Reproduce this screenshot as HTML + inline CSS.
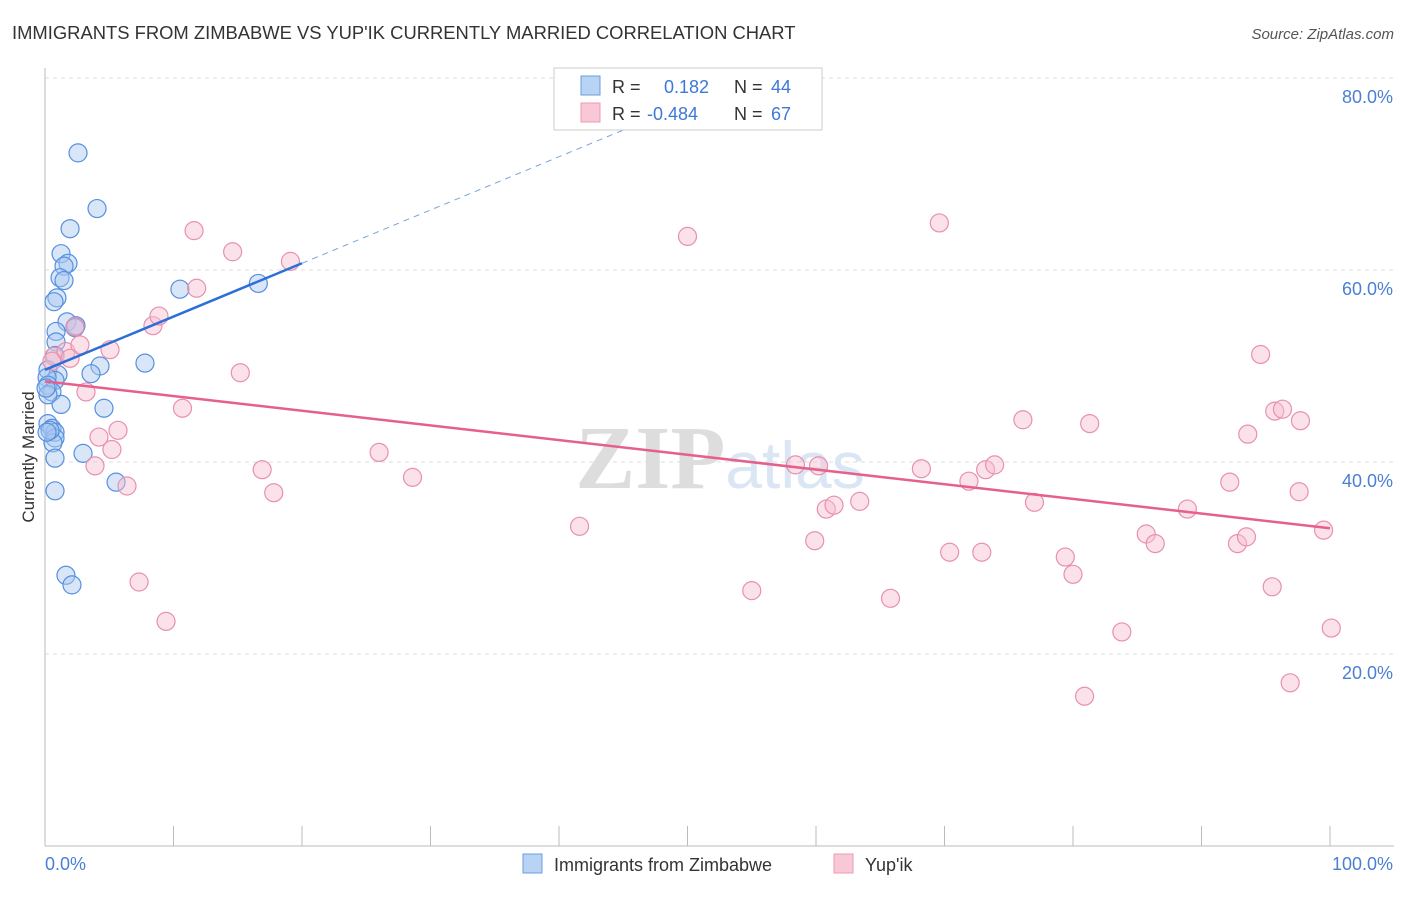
<!DOCTYPE html>
<html><head><meta charset="utf-8"><style>
body{margin:0;background:#fff;font-family:"Liberation Sans",sans-serif}
</style></head><body>
<svg width="1406" height="892" xmlns="http://www.w3.org/2000/svg" font-family="Liberation Sans, sans-serif">
<text x="12" y="39" font-size="18.4" fill="#333">IMMIGRANTS FROM ZIMBABWE VS YUP'IK CURRENTLY MARRIED CORRELATION CHART</text>
<text x="1394" y="39" font-size="15" fill="#555" text-anchor="end" font-style="italic">Source: ZipAtlas.com</text>
<g id="grid"></g>
<text x="720" y="488" font-size="90" text-anchor="middle" fill="#ddd" font-family="Liberation Serif, serif" font-weight="bold">ZIP<tspan fill="#dbe6f4" font-family="Liberation Sans, sans-serif" font-weight="normal" font-size="66">atlas</tspan></text>
<line x1="45" y1="846" x2="1394" y2="846" stroke="#bbb"/>
<line x1="45" y1="68" x2="45" y2="846" stroke="#bbb"/>
<text transform="translate(34,457) rotate(-90)" font-size="17" text-anchor="middle" fill="#333">Currently Married</text>
<text x="45" y="870" font-size="18" fill="#4a7fd4">0.0%</text>
<text x="1393" y="870" font-size="18" fill="#4a7fd4" text-anchor="end">100.0%</text>
<g id="marks"></g>
<g>
<rect x="554" y="68" width="268" height="62" fill="#fff" stroke="#ccc"/>
<rect x="581" y="76" width="19" height="19" fill="#b9d3f4" stroke="#6a9ee0"/>
<rect x="581" y="103" width="19" height="19" fill="#f9c8d6" stroke="#ec9ab3"/>
<text x="612" y="93" font-size="18" fill="#333">R = <tspan fill="#3c78d8" x="664">0.182</tspan><tspan fill="#333" x="734">N =</tspan><tspan fill="#3c78d8" x="771">44</tspan></text>
<text x="612" y="120" font-size="18" fill="#333">R = <tspan fill="#3c78d8" x="647">-0.484</tspan><tspan fill="#333" x="734">N =</tspan><tspan fill="#3c78d8" x="771">67</tspan></text>
</g>
<g>
<rect x="523" y="854" width="19" height="19" fill="#b9d3f4" stroke="#6a9ee0"/>
<text x="554" y="871" font-size="18" fill="#333">Immigrants from Zimbabwe</text>
<rect x="834" y="854" width="19" height="19" fill="#f9c8d6" stroke="#ec9ab3"/>
<text x="865" y="871" font-size="18" fill="#333">Yup'ik</text>
</g>
</svg>
<script>
const yTicks=[20,40,60,80];
const yTickLabels=["20.0%","40.0%","60.0%","80.0%"];
const xTicks=[0,10,20,30,40,50,60,70,80,90,100];
const blueX=[2.57,4.05,1.95,1.25,1.79,1.48,1.17,1.48,0.93,0.70,1.71,2.41,2.33,0.86,0.86,0.78,0.23,1.01,4.28,3.58,7.78,10.5,16.6,0.78,0.16,0.23,0.54,1.25,4.59,0.23,0.54,0.78,0.78,0.62,0.78,2.96,5.53,0.78,1.63,2.10,0.23,0.39,0.16,0.08];
const blueY=[72.2,66.4,64.3,61.7,60.7,60.4,59.2,58.9,57.1,56.7,54.6,54.2,54.0,53.6,52.5,51.1,49.6,49.1,50.0,49.2,50.3,58.0,58.6,48.5,48.8,48.0,47.3,46.0,45.6,44.0,43.5,43.1,42.5,42.0,40.4,40.9,37.9,37.0,28.2,27.2,47.0,43.3,43.1,47.7];
const pinkX=[0.70,1.63,2.72,5.06,2.33,3.19,4.20,5.68,5.21,3.89,6.38,7.32,9.42,8.40,8.87,10.7,11.6,11.8,14.6,15.2,16.9,17.8,19.1,26.0,28.6,41.6,50.0,55.0,58.4,59.9,60.2,60.8,61.4,63.4,65.8,68.2,69.6,70.4,71.9,72.9,73.2,73.9,76.1,77.0,79.4,80.0,80.9,81.3,83.8,85.7,86.4,88.9,92.2,92.8,93.5,93.6,94.6,95.5,95.7,96.3,96.9,97.6,97.7,99.5,100.1,0.54,1.95];
const pinkY=[51.0,51.5,52.2,51.7,54.1,47.3,42.6,43.3,41.3,39.6,37.5,27.5,23.4,54.2,55.2,45.6,64.1,58.1,61.9,49.3,39.2,36.8,60.9,41.0,38.4,33.3,63.5,26.6,39.7,31.8,39.6,35.1,35.5,35.9,25.8,39.3,64.9,30.6,38.0,30.6,39.2,39.7,44.4,35.8,30.1,28.3,15.6,44.0,22.3,32.5,31.5,35.1,37.9,31.5,32.2,42.9,51.2,27.0,45.3,45.5,17.0,36.9,44.3,32.9,22.7,50.5,50.8];
const blueTrend=[49.6,0.555];
const pinkTrend=[48.4,-0.153];
const NS="http://www.w3.org/2000/svg";
const sx=v=>45+v*12.85, sy=v=>846-v*9.6;
function mk(t,a,p){const e=document.createElementNS(NS,t);for(const k in a)e.setAttribute(k,a[k]);p.appendChild(e);return e;}
const grid=document.getElementById('grid'), marks=document.getElementById('marks');
yTicks.forEach((v,i)=>{
 const l=mk('line',{x1:45,x2:1394,y1:sy(v),y2:sy(v),stroke:'#ddd','stroke-dasharray':'4,4'},grid);
 
 
 const t=mk('text',{x:1393,y:sy(v)+25,'font-size':18,fill:'#4a7fd4','text-anchor':'end'},grid);
 t.textContent=yTickLabels[i];
 
 
});
xTicks.forEach(v=>{
 const l=mk('line',{x1:sx(v),x2:sx(v),y1:826,y2:846,stroke:'#bbb'},grid);
 
 
});
function pts(X,Y,fill,stroke,name){
 X.forEach((x,i)=>{
  const c=mk('circle',{cx:sx(x),cy:sy(Y[i]),r:9,fill:fill,'fill-opacity':0.45,stroke:stroke,'stroke-width':1.2},marks);
  
  
 });
}
pts(blueX,blueY,'#a8c8f0','#5590e0','zimbabwe-point');
pts(pinkX,pinkY,'#f6bfd0','#e890ad','yupik-point');
let l=mk('line',{x1:sx(0),y1:sy(blueTrend[0]),x2:sx(20),y2:sy(blueTrend[0]+20*blueTrend[1]),stroke:'#2c6fd8','stroke-width':2.5},marks);


l=mk('line',{x1:sx(20),y1:sy(blueTrend[0]+20*blueTrend[1]),x2:sx(48),y2:sy(blueTrend[0]+48*blueTrend[1]),stroke:'#7aa3e0','stroke-width':1,'stroke-dasharray':'6,5'},marks);


l=mk('line',{x1:sx(0),y1:sy(pinkTrend[0]),x2:sx(100),y2:sy(pinkTrend[0]+100*pinkTrend[1]),stroke:'#e5608a','stroke-width':2.5},marks);


</script>
</body></html>
